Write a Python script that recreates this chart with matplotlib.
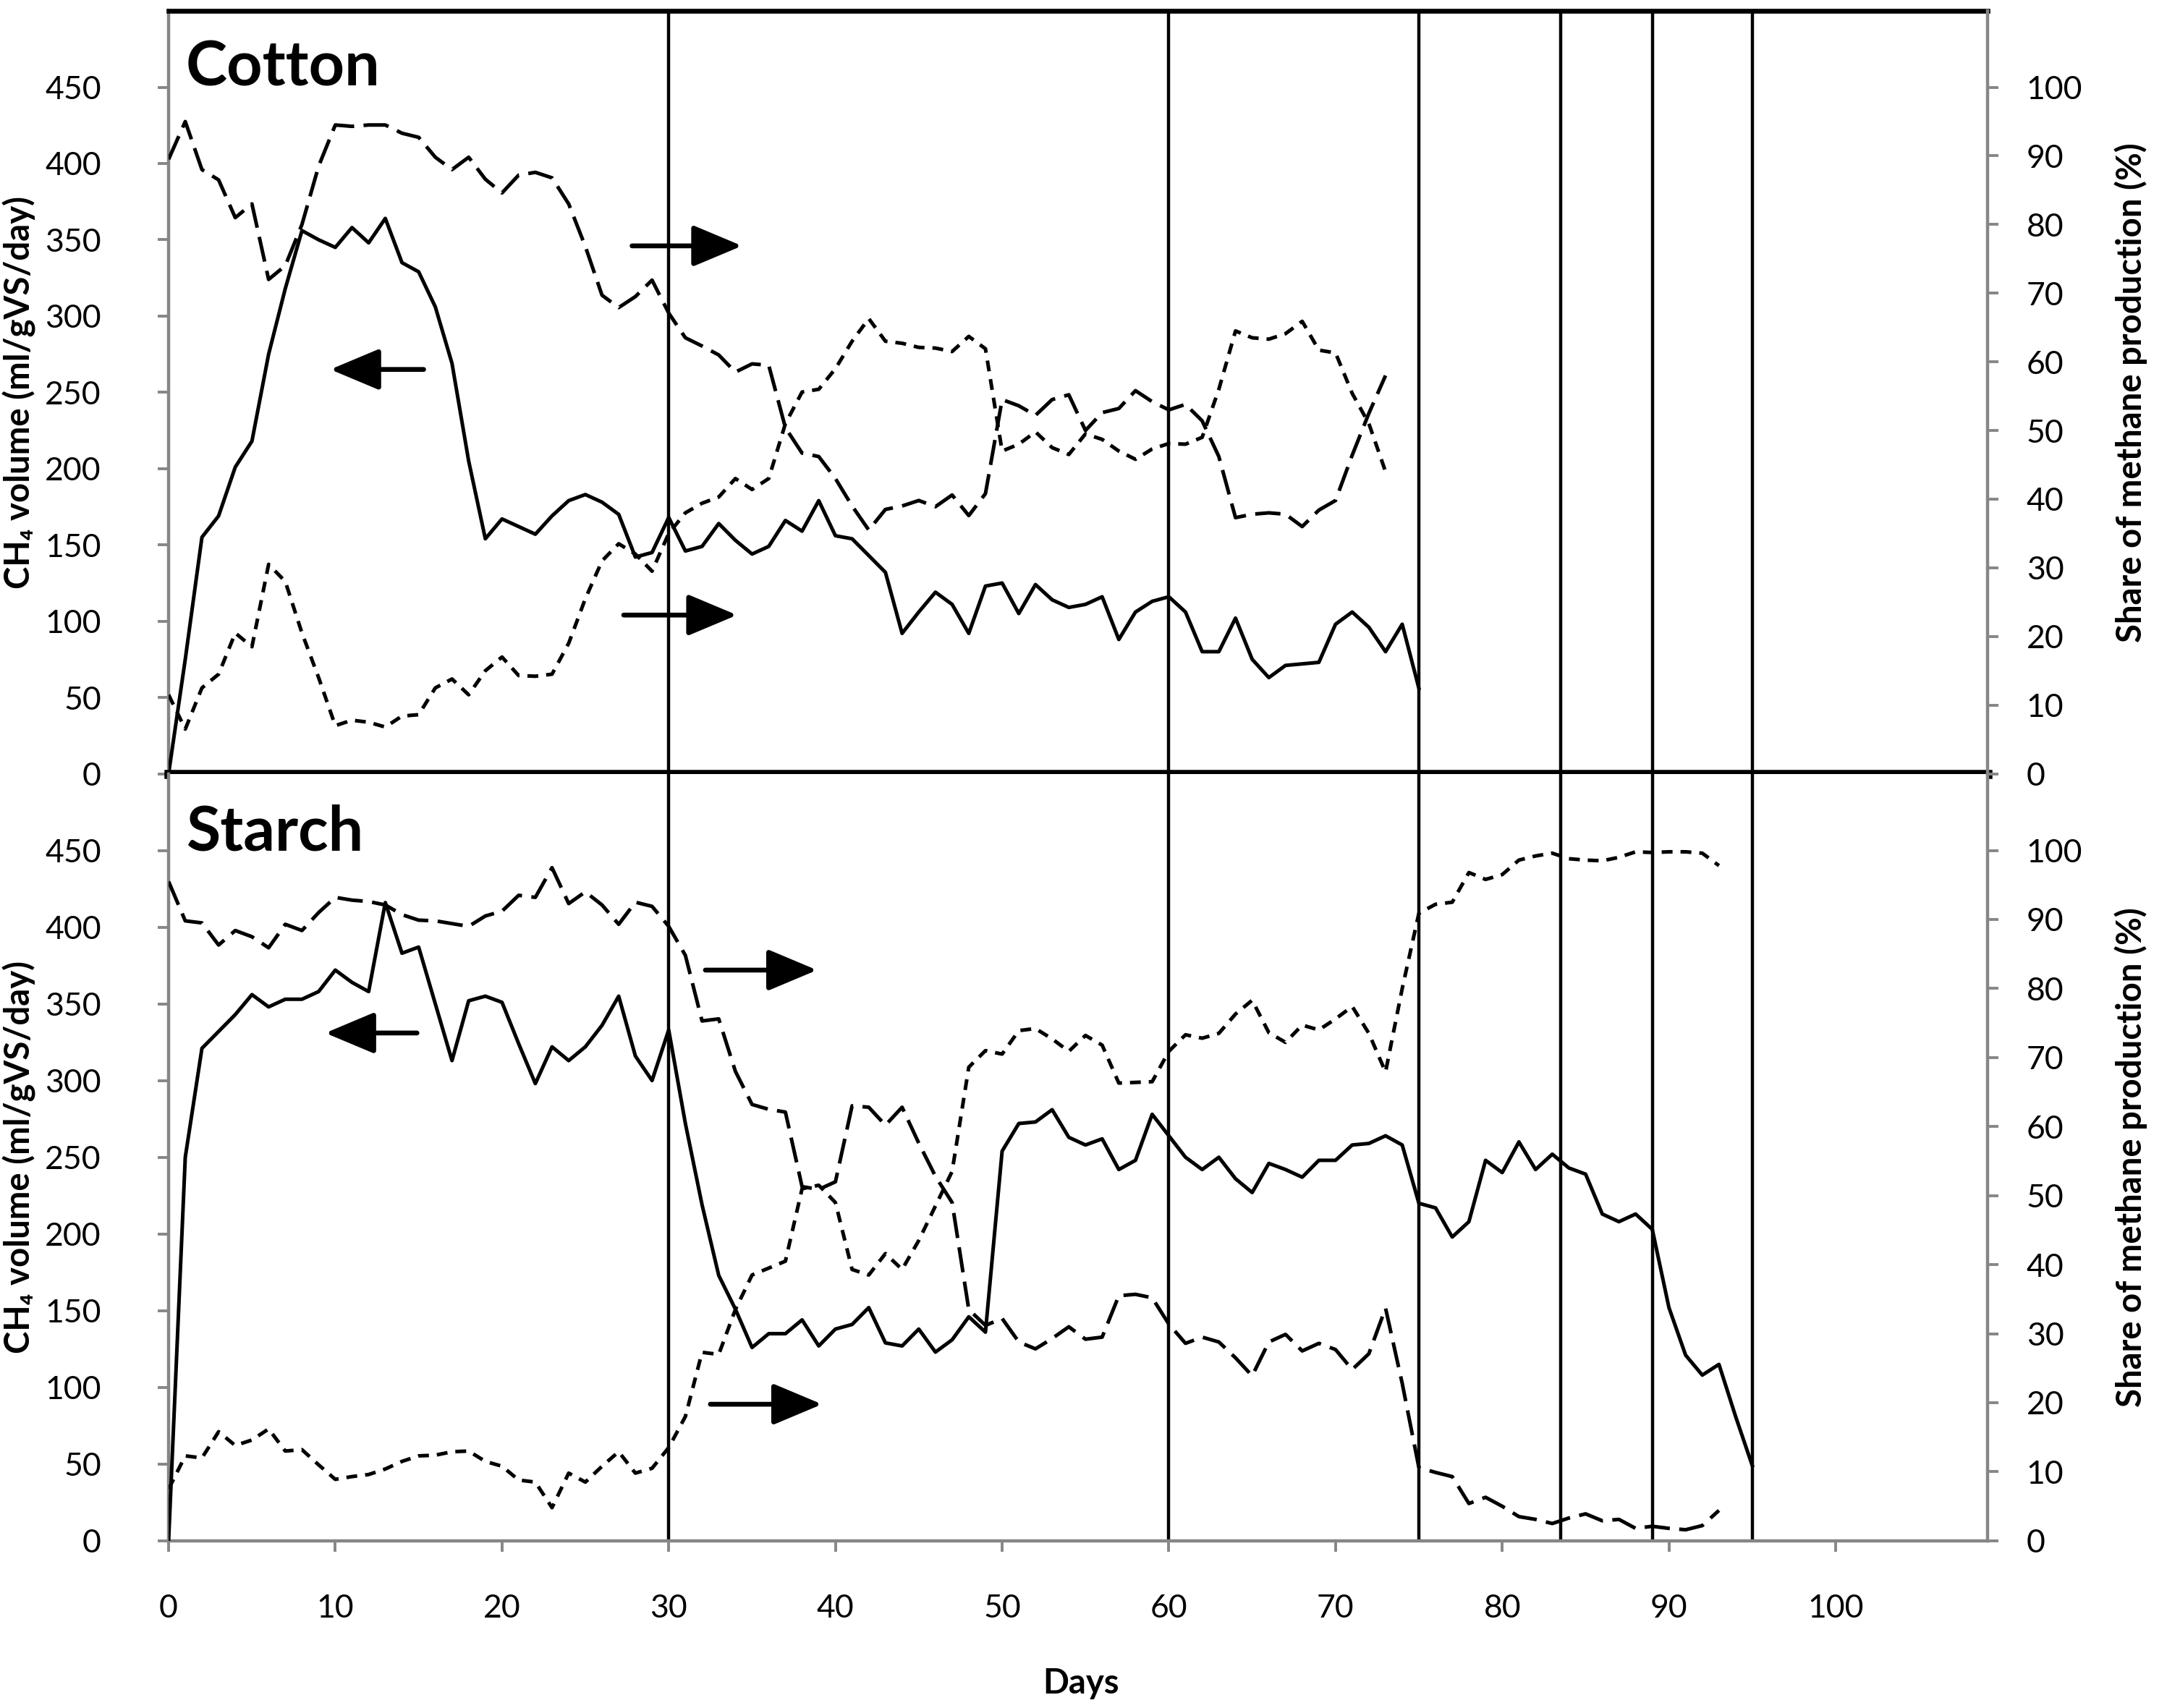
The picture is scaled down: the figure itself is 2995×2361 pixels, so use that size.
import matplotlib.pyplot as plt
from matplotlib.ticker import FixedLocator

plt.rcParams['font.family'] = ['Lato', 'DejaVu Sans']

# ---- data ----
cotton_days = list(range(0, 76))
cotton_ch4 = [0, 75, 155, 169, 201, 218, 275, 318, 356, 350,
              345, 358, 348, 364, 335, 329, 306, 269, 205, 154,
              167, 162, 157, 169, 179, 183, 178, 170, 142, 145,
              168, 146, 149, 164, 153, 144, 149, 166, 159, 179,
              156, 154, 143, 132, 92, 106, 119, 111, 92, 123,
              125, 105, 124, 114, 109, 111, 116, 88, 106, 113,
              116, 106, 80, 80, 102, 75, 63, 71, 72, 73,
              98, 106, 96, 80, 98, 56]

cotton_share_days = list(range(0, 74))
cotton_share_long = [89.5, 95, 88, 86.5, 81, 83, 72, 74, 80, 88.5,
                     94.5, 94.3, 94.5, 94.5, 93.3, 92.7, 89.8, 88, 89.8, 86.6,
                     84.6, 87.2, 87.6, 86.8, 83, 76.8, 69.7, 67.9, 69.5, 71.9,
                     67.1, 63.5, 62.3, 61, 58.5, 59.7, 59.5, 50.4, 46.7, 46.2,
                     43, 39, 35.5, 38.5, 39, 39.8, 38.9, 40.6, 37.6, 40.8,
                     54.5, 53.6, 52.2, 54.5, 55.2, 50, 52.6, 53.2, 55.8, 54.2,
                     53, 53.8, 51.4, 46.2, 37.3, 37.8, 38, 37.8, 36, 38.4,
                     39.8, 46.4, 52.5, 58]
cotton_share_short = [11.5, 6.5, 12.5, 14.5, 20.5, 18.5, 30.5, 28, 20.5, 14,
                      7, 7.8, 7.5, 6.8, 8.4, 8.6, 12.5, 13.8, 11.5, 15,
                      17, 14.3, 14.2, 14.5, 19, 25.5, 31, 33.5, 32, 29.5,
                      35, 38, 39.4, 40.3, 43, 41.4, 43, 51, 55.6, 56,
                      59, 63, 66.3, 63, 62.7, 62.1, 62, 61.5, 63.7, 61.9,
                      47, 48, 49.8, 47.5, 46.5, 49.5, 48.7, 47, 45.8, 47.3,
                      48.1, 48, 49, 56, 64.5, 63.5, 63.3, 64.1, 65.9, 61.7,
                      61.3, 55.4, 51, 44]

starch_days = list(range(0, 96))
starch_ch4 = [0, 250, 321, 332, 343, 356, 348, 353, 353, 358,
              372, 364, 358, 416, 383, 387, 350, 313, 352, 355,
              351, 324, 298, 322, 313, 322, 336, 355, 316, 300,
              333, 272, 219, 173, 151, 126, 135, 135, 144, 127,
              138, 141, 152, 129, 127, 138, 123, 131, 146, 136,
              254, 272, 273, 281, 263, 258, 262, 242, 248, 278,
              264, 250, 242, 250, 236, 227, 246, 242, 237, 248,
              248, 258, 259, 264, 258, 220, 217, 198, 208, 248,
              240, 260, 242, 252, 243, 239, 213, 208, 213, 203,
              152, 121, 108, 115, 81, 49]

starch_share_days = list(range(0, 94))
starch_share_long = [95.5, 89.8, 89.5, 86.3, 88.4, 87.5, 85.9, 89.3, 88.4, 91,
                     93.2, 92.8, 92.6, 92.1, 90.7, 89.9, 89.8, 89.4, 89, 90.5,
                     91.2, 93.5, 93.2, 97.5, 92.3, 94, 92.1, 89.3, 92.5, 91.9,
                     89, 84.8, 75.3, 75.6, 68, 63.2, 62.5, 62.1, 51.3, 50.9,
                     52, 63, 62.8, 60.2, 62.8, 57.6, 52.8, 49, 33.5, 31.2,
                     32.2, 28.8, 27.8, 29.3, 31, 29.2, 29.5, 35.5, 35.7, 35.2,
                     31.4, 28.6, 29.5, 28.8, 26.5, 23.9, 28.8, 29.9, 27.5, 28.6,
                     27.7, 24.8, 27.1, 33.7, 22.8, 10.6, 9.9, 9.3, 5.4, 6.3,
                     5, 3.5, 3.1, 2.5, 3.3, 3.9, 2.9, 3.1, 1.8, 2.1,
                     1.8, 1.6, 2.2, 4.4]
starch_share_short = [7.5, 12.3, 12, 15.8, 13.8, 14.6, 16.2, 13, 13.2, 11,
                      8.9, 9.3, 9.6, 10.4, 11.5, 12.3, 12.4, 12.9, 13, 11.5,
                      10.8, 8.8, 8.5, 4.8, 9.8, 8.5, 10.8, 12.9, 9.8, 10.5,
                      13.5, 18, 27.3, 27, 33.5, 38.5, 39.5, 40.5, 51, 51.5,
                      49, 39.3, 38.5, 41.6, 39.3, 43.5, 48.5, 53.5, 68.6, 71,
                      70.5, 73.9, 74.2, 72.7, 70.9, 73.2, 71.8, 66.3, 66.4, 66.5,
                      70.9, 73.3, 72.8, 73.5, 76.3, 78.3, 73.6, 72.2, 74.7, 74,
                      75.6, 77.4, 73.5, 67.9, 80, 90.9, 92.2, 92.5, 96.8, 95.8,
                      96.5, 98.6, 99.2, 99.6, 98.8, 98.6, 98.5, 99, 99.8, 99.7,
                      99.8, 99.8, 99.6, 97.8]

phase_days = [30, 60, 75, 83.5, 89, 95]
x_ticks = list(range(0, 101, 10))
left_ticks = list(range(0, 451, 50))
right_ticks = list(range(0, 101, 10))

# arrows: (tail_x, tip_x, y on left axis)
cotton_arrows = [(15.3, 9.7, 265), (27.8, 34.4, 346), (27.3, 34.1, 104)]
starch_arrows = [(14.9, 9.4, 331), (32.2, 38.9, 372), (32.5, 39.2, 89)]

GRAY = '#868686'
LW = 1.8
LONG = (7, 2.6)
SHORT = (3, 2.2)


def setup_panel(ax, title, title_y, bottom):
    ax.set_xlim(0, 109.1)
    ax.set_ylim(0, 500)
    ax.yaxis.set_major_locator(FixedLocator(left_ticks))
    twin = ax.twinx()
    twin.set_ylim(0, 500 / 4.5)
    twin.yaxis.set_major_locator(FixedLocator(right_ticks))
    ax.tick_params(axis='y', direction='out', length=5.5, width=1.4,
                   color=GRAY, labelsize=16, pad=28)
    twin.tick_params(axis='y', direction='out', length=5.5, width=1.4,
                     color=GRAY, labelsize=16, pad=14)
    for a in (ax, twin):
        for s in a.spines.values():
            s.set_visible(False)
    ax.spines['left'].set_visible(True)
    ax.spines['left'].set_color(GRAY)
    ax.spines['left'].set_linewidth(1.6)
    twin.spines['right'].set_visible(True)
    twin.spines['right'].set_color(GRAY)
    twin.spines['right'].set_linewidth(1.6)
    if bottom:
        ax.spines['bottom'].set_visible(True)
        ax.spines['bottom'].set_color(GRAY)
        ax.spines['bottom'].set_linewidth(1.6)
        ax.xaxis.set_major_locator(FixedLocator(x_ticks))
        ax.tick_params(axis='x', direction='out', length=5.5, width=1.4,
                       color=GRAY, labelsize=16, pad=21)
    else:
        ax.spines['top'].set_visible(True)
        ax.spines['top'].set_color('black')
        ax.spines['top'].set_linewidth(2.4)
        ax.spines['bottom'].set_visible(True)
        ax.spines['bottom'].set_color('black')
        ax.spines['bottom'].set_linewidth(4.5)
        ax.set_xticks([])
    ax.set_ylabel('CH\u2084 volume (ml/gVS/day)', fontsize=17, fontweight='bold')
    ax.yaxis.set_label_coords(-0.073, 0.5)
    twin.set_ylabel('Share of methane production (%)', fontsize=17,
                    fontweight='bold', rotation=90)
    twin.yaxis.set_label_coords(1.07, 0.5)
    ax.text(0.0095, title_y, title, transform=ax.transAxes, fontsize=31,
            fontweight='bold', va='top', ha='left')
    for d in phase_days:
        ax.axvline(d, color='black', lw=1.6, zorder=1)
    return twin


def draw_arrows(ax, arrows):
    for tail, tip, y in arrows:
        ax.annotate('', xy=(tip, y), xytext=(tail, y),
                    arrowprops=dict(arrowstyle='-|>,head_length=1.0,head_width=0.42',
                                    mutation_scale=21, color='black', lw=2.4,
                                    shrinkA=0, shrinkB=0))


fig = plt.figure(figsize=(14.975, 11.805), dpi=200)
ax_top = fig.add_axes([0.0778, 0.547, 0.8393, 0.4466])
ax_bot = fig.add_axes([0.0778, 0.0979, 0.8393, 0.4491])

tw_top = setup_panel(ax_top, 'Cotton', 0.963, bottom=False)
tw_bot = setup_panel(ax_bot, 'Starch', 0.96, bottom=True)

ax_top.plot(cotton_days, cotton_ch4, color='black', lw=LW, zorder=3)
tw_top.plot(cotton_share_days, cotton_share_long, color='black', lw=LW, dashes=LONG)
tw_top.plot(cotton_share_days, cotton_share_short, color='black', lw=LW, dashes=SHORT)
draw_arrows(ax_top, cotton_arrows)

ax_bot.plot(starch_days, starch_ch4, color='black', lw=LW, zorder=3)
tw_bot.plot(starch_share_days, starch_share_long, color='black', lw=LW, dashes=LONG)
tw_bot.plot(starch_share_days, starch_share_short, color='black', lw=LW, dashes=SHORT)
draw_arrows(ax_bot, starch_arrows)

fig.text(782 / 1568, 1 - 1218 / 1236, 'Days', ha='center', va='center',
         fontsize=17, fontweight='bold')

fig.savefig('out.png', dpi=200)
